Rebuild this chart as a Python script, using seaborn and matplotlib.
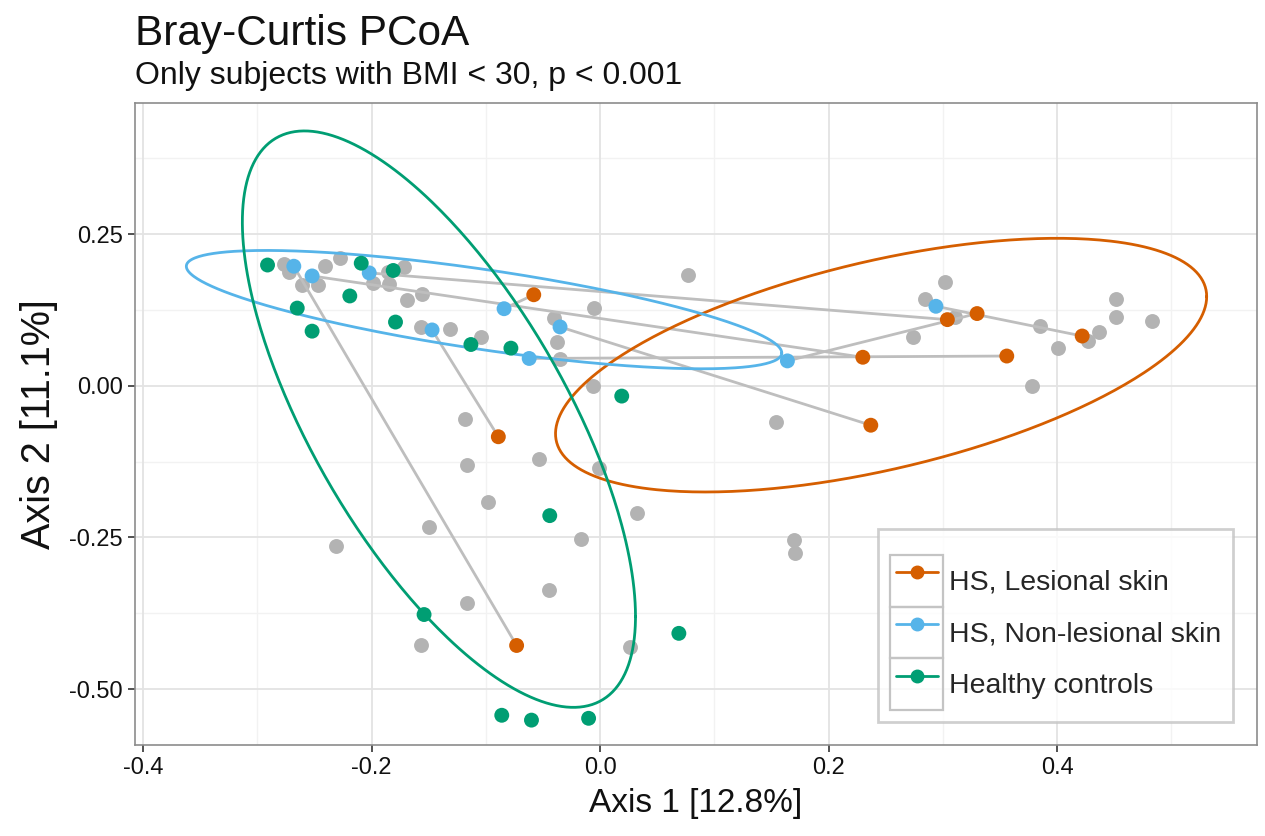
import numpy as np
import pandas as pd
import matplotlib
matplotlib.use('Agg')
import matplotlib.pyplot as plt
import seaborn as sns
from matplotlib.lines import Line2D
from matplotlib.patches import Rectangle
from matplotlib.legend_handler import HandlerLine2D

# --- data ---------------------------------------------------------------
groups = ['HS, Lesional skin', 'HS, Non-lesional skin', 'Healthy controls']
colors = ['#D55E00', '#56B4E9', '#009E73']

# lesional / non-lesional pairs (same patient), index-aligned
lesional_x = [-0.073, 0.230, 0.304, -0.089, -0.058, 0.237, 0.356, 0.330, 0.422]
lesional_y = [-0.428, 0.047, 0.109, -0.084, 0.150, -0.065, 0.049, 0.119, 0.082]
nonles_x = [-0.268, -0.252, -0.202, -0.147, -0.084, -0.035, -0.062, 0.164, 0.294]
nonles_y = [0.197, 0.181, 0.186, 0.092, 0.127, 0.097, 0.045, 0.041, 0.131]

healthy_x = [-0.291, -0.209, -0.181, -0.219, -0.265, -0.252, -0.179, -0.113,
             -0.078, 0.019, -0.044, -0.154, 0.069, -0.086, -0.060, -0.010]
healthy_y = [0.199, 0.202, 0.190, 0.148, 0.128, 0.090, 0.105, 0.068,
             0.062, -0.017, -0.214, -0.377, -0.408, -0.543, -0.551, -0.548]

# other samples, shown in grey
other_x = [-0.277, -0.272, -0.261, -0.247, -0.241, -0.228, -0.199, -0.186,
           -0.185, -0.172, -0.169, -0.156, -0.157, -0.131, -0.104, -0.118,
           0.077, -0.005, -0.040, -0.038, -0.035, -0.006, 0.274, 0.284,
           0.302, 0.154, 0.311, 0.385, 0.427, 0.437, 0.401, 0.452, 0.452,
           0.483, 0.378, -0.116, -0.053, -0.098, -0.150, -0.231, -0.045,
           -0.116, -0.157, -0.001, 0.032, -0.017, 0.026, 0.170, 0.171]
other_y = [0.201, 0.187, 0.166, 0.166, 0.197, 0.211, 0.169, 0.187,
           0.167, 0.196, 0.141, 0.151, 0.097, 0.094, 0.081, -0.054,
           0.183, 0.128, 0.112, 0.072, 0.044, -0.001, 0.080, 0.143,
           0.171, -0.060, 0.114, 0.098, 0.073, 0.088, 0.062, 0.143, 0.113,
           0.107, -0.001, -0.131, -0.120, -0.192, -0.232, -0.264, -0.337,
           -0.358, -0.427, -0.136, -0.209, -0.252, -0.430, -0.254, -0.276]

# 95% ellipses: centre and shape matrix (sxx, sxy, syy) estimated from figure
ell_center = [(0.246, 0.034), (-0.1015, 0.1255), (-0.141, -0.055)]
ell_shape = [(0.0812, 0.0322, 0.0437),
             (0.0679, -0.0186, 0.00951),
             (0.0296, -0.0559, 0.2256)]

xticks = [-0.4, -0.2, 0.0, 0.2, 0.4]
yticks = [-0.50, -0.25, 0.00, 0.25]

# --- frames --------------------------------------------------------------
df = pd.concat([
    pd.DataFrame({'x': lesional_x, 'y': lesional_y, 'group': groups[0]}),
    pd.DataFrame({'x': nonles_x, 'y': nonles_y, 'group': groups[1]}),
    pd.DataFrame({'x': healthy_x, 'y': healthy_y, 'group': groups[2]}),
], ignore_index=True)

pairs = pd.DataFrame({
    'x': nonles_x + lesional_x,
    'y': nonles_y + lesional_y,
    'pair': list(range(len(nonles_x))) * 2,
})

sns.set_theme(style='white')
plt.rcParams['font.family'] = ['Liberation Sans', 'DejaVu Sans']
plt.rcParams['axes.unicode_minus'] = False

fig = plt.figure(figsize=(12.65, 8.36), dpi=100)
ax = fig.add_axes([135 / 1265, 1 - 745 / 836, 1122 / 1265, 642 / 836])

# grid like theme_bw
for v in [-0.3, -0.1, 0.1, 0.3, 0.5]:
    ax.axvline(v, color='#F2F2F2', lw=1.0, zorder=0)
for v in [-0.375, -0.125, 0.125, 0.375]:
    ax.axhline(v, color='#F2F2F2', lw=1.0, zorder=0)
for v in xticks:
    ax.axvline(v, color='#E3E3E3', lw=1.3, zorder=0)
for v in yticks:
    ax.axhline(v, color='#E3E3E3', lw=1.3, zorder=0)

sns.scatterplot(x=other_x, y=other_y, color='#B3B3B3', s=115, linewidth=0,
                ax=ax, zorder=2, legend=False)

sns.lineplot(data=pairs, x='x', y='y', units='pair', estimator=None, sort=False,
             color='#BEBEBE', lw=2.0, ax=ax, zorder=3, legend=False)

t = np.linspace(0, 2 * np.pi, 400)
for (cx, cy), (sxx, sxy, syy), c in zip(ell_center, ell_shape, colors):
    L = np.linalg.cholesky(np.array([[sxx, sxy], [sxy, syy]]))
    pts = L @ np.vstack([np.cos(t), np.sin(t)])
    ax.plot(cx + pts[0], cy + pts[1], color=c, lw=2.0, zorder=4)

sns.scatterplot(data=df, x='x', y='y', hue='group', hue_order=groups,
                palette=colors, s=115, linewidth=0, ax=ax, zorder=5, legend=False)

ax.set_xlim(-0.407, 0.575)
ax.set_ylim(-0.592, 0.466)
ax.set_xticks(xticks)
ax.set_xticklabels(['-0.4', '-0.2', '0.0', '0.2', '0.4'])
ax.set_yticks(yticks)
ax.set_yticklabels(['-0.50', '-0.25', '0.00', '0.25'])
ax.tick_params(axis='both', length=5, width=1.2, color='#333333',
               labelsize=17, labelcolor='#111111', pad=4, direction='out',
               bottom=True, left=True)
for sp in ax.spines.values():
    sp.set_color('#8C8C8C')
    sp.set_linewidth(1.2)

ax.set_xlabel('Axis 1 [12.8%]', fontsize=24, color='#111111', labelpad=6)
ax.set_ylabel('Axis 2 [11.1%]', fontsize=28.5, color='#111111', labelpad=8)

fig.text(135 / 1265, 1 - 45 / 836, 'Bray-Curtis PCoA', fontsize=30.5,
         va='baseline', ha='left', color='#111111')
fig.text(135 / 1265, 1 - 84 / 836, 'Only subjects with BMI < 30, p < 0.001',
         fontsize=23, va='baseline', ha='left', color='#111111')


class BoxedLine(HandlerLine2D):
    # legend key with a grey box around it, line inset from the box edge
    def get_xdata(self, legend, xdescent, ydescent, width, height, fontsize):
        inset = 0.18 * fontsize
        xd = np.array([-xdescent + inset, -xdescent + width - inset])
        return xd, np.array([-xdescent + width / 2])

    def create_artists(self, legend, orig_handle, xdescent, ydescent,
                       width, height, fontsize, trans):
        arts = super().create_artists(legend, orig_handle, xdescent, ydescent,
                                      width, height, fontsize, trans)
        box = Rectangle((-xdescent, -ydescent), width, height, fill=False,
                        ec='#C4C4C4', lw=1.6, transform=trans)
        return [box] + list(arts)


handles = [Line2D([], [], color=c, marker='o', markersize=9, lw=2.0)
           for c in colors]
leg = ax.legend(handles, groups, loc='lower right',
                bbox_to_anchor=((1233 - 135) / 1122, (745 - 722) / 642),
                borderaxespad=0, fontsize=20.5, frameon=True, fancybox=False,
                handlelength=1.85, handleheight=2.42, labelspacing=0,
                handletextpad=0.2, borderpad=0.42, title=' ',
                title_fontsize=10,
                handler_map={Line2D: BoxedLine(numpoints=1)})
leg.get_frame().set_edgecolor('#C4C4C4')
leg.get_frame().set_linewidth(2.0)
leg.get_frame().set_facecolor('white')
leg.set_zorder(10)

fig.savefig('out.png', dpi=100)
